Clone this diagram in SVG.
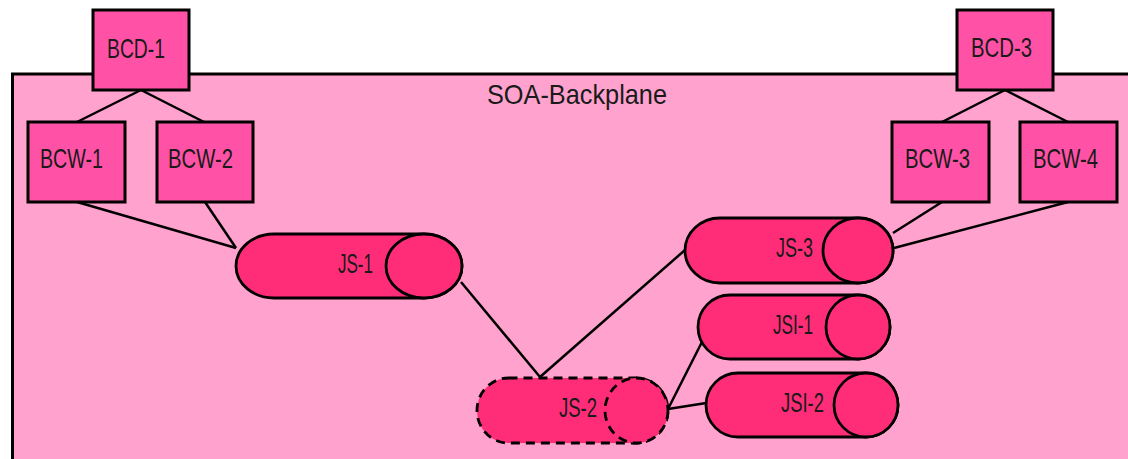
<svg xmlns="http://www.w3.org/2000/svg" width="1128" height="459" viewBox="0 0 1128 459">
<style>
.box{fill:#FF52A6;stroke:#000;stroke-width:3}
.cyl{fill:#FF2D78;stroke:#000;stroke-width:2.8}
.dash{stroke-dasharray:9 6}
.lbl{font-family:"Liberation Sans",Arial,sans-serif;font-size:27.5px;fill:#1a1a1a;text-anchor:start}
.conn line{stroke:#000;stroke-width:2.5;fill:none}
</style>
<rect width="1128" height="459" fill="#fff"/>
<g id="backplane">
<rect x="12.5" y="74" width="1130" height="400" fill="#FFA3CE" stroke="#000" stroke-width="3"/>
<text class="lbl" x="487" y="104" textLength="180" lengthAdjust="spacingAndGlyphs">SOA-Backplane</text>
</g>
<g class="conn" id="connectors">
<line x1="141" y1="90" x2="77" y2="122"/>
<line x1="141" y1="90" x2="204" y2="122"/>
<line x1="1005" y1="90" x2="942" y2="122"/>
<line x1="1005" y1="90" x2="1068" y2="122"/>
<line x1="77" y1="202" x2="236" y2="248"/>
<line x1="205" y1="202" x2="236" y2="248"/>
<line x1="942" y1="202" x2="893" y2="233"/>
<line x1="1068" y1="202" x2="894" y2="248"/>
<line x1="461" y1="282" x2="540" y2="377"/>
<line x1="685" y1="250" x2="540" y2="377"/>
<line x1="706" y1="334" x2="668" y2="409"/>
<line x1="719" y1="401" x2="668" y2="409"/>
</g>
<g id="BCD-1"><rect class="box" x="93" y="10" width="96" height="80"/><text class="lbl" x="107" y="58" textLength="58" lengthAdjust="spacingAndGlyphs">BCD-1</text></g>
<g id="BCD-3"><rect class="box" x="957" y="10" width="96" height="80"/><text class="lbl" x="971" y="57" textLength="61" lengthAdjust="spacingAndGlyphs">BCD-3</text></g>
<g id="BCW-1"><rect class="box" x="28" y="122" width="97" height="80"/><text class="lbl" x="40" y="168" textLength="63" lengthAdjust="spacingAndGlyphs">BCW-1</text></g>
<g id="BCW-2"><rect class="box" x="157" y="122" width="96" height="80"/><text class="lbl" x="168" y="168" textLength="65" lengthAdjust="spacingAndGlyphs">BCW-2</text></g>
<g id="BCW-3"><rect class="box" x="892" y="122" width="97" height="80"/><text class="lbl" x="905" y="168" textLength="65" lengthAdjust="spacingAndGlyphs">BCW-3</text></g>
<g id="BCW-4"><rect class="box" x="1020" y="122" width="97" height="80"/><text class="lbl" x="1033" y="168" textLength="65" lengthAdjust="spacingAndGlyphs">BCW-4</text></g>
<g id="JS-1">
<path class="cyl" d="M274,234 H424 A38,32 0 0 1 424,298 H274 A38,32 0 0 1 274,234 Z"/>
<ellipse class="cyl" cx="424" cy="266" rx="38" ry="32"/>
<text class="lbl" x="338" y="273" textLength="35" lengthAdjust="spacingAndGlyphs">JS-1</text>
</g>
<g id="JS-3">
<path class="cyl" d="M720,218 H858 A35,32.5 0 0 1 858,283 H720 A35,32.5 0 0 1 720,218 Z"/>
<ellipse class="cyl" cx="858" cy="250.5" rx="35" ry="32.5"/>
<text class="lbl" x="776" y="257" textLength="37" lengthAdjust="spacingAndGlyphs">JS-3</text>
</g>
<g id="JS-2">
<path class="cyl dash" d="M508.5,378 H636.5 A31.5,32.5 0 0 1 636.5,443 H508.5 A31.5,32.5 0 0 1 508.5,378 Z"/>
<ellipse class="cyl dash" cx="636.5" cy="410.5" rx="31.5" ry="32.5"/>
<text class="lbl" x="559" y="417" textLength="38" lengthAdjust="spacingAndGlyphs">JS-2</text>
</g>
<g id="JSI-1">
<path class="cyl" d="M730,295 H858 A32,32 0 0 1 858,359 H730 A32,32 0 0 1 730,295 Z"/>
<ellipse class="cyl" cx="858" cy="327" rx="32" ry="32"/>
<text class="lbl" x="773" y="334" textLength="40" lengthAdjust="spacingAndGlyphs">JSI-1</text>
</g>
<g id="JSI-2">
<path class="cyl" d="M738,373 H866 A32,32 0 0 1 866,437 H738 A32,32 0 0 1 738,373 Z"/>
<ellipse class="cyl" cx="866" cy="405" rx="32" ry="32"/>
<text class="lbl" x="781" y="412" textLength="43" lengthAdjust="spacingAndGlyphs">JSI-2</text>
</g>
</svg>
